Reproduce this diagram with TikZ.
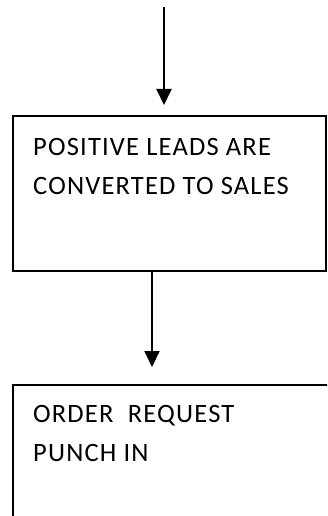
\documentclass[tikz,border=0pt]{standalone}
\usepackage{fontspec}
\setmainfont{Carlito}[LetterSpace=4.5]
\usetikzlibrary{arrows.meta}
\tikzset{
  stepbox/.style={draw=black, line width=1.6pt, rectangle, inner sep=0pt, anchor=north west},
  boxtext/.style={anchor=north west, inner sep=0pt, align=left,
    font=\fontsize{26.5}{39}\selectfont},
  flow/.style={line width=2pt, -{Triangle[width=15pt,length=16pt]}}
}
\begin{document}
\begin{tikzpicture}[x=1pt,y=1pt]
  \useasboundingbox (0,0) rectangle (327,-516);
  \clip (0,0) rectangle (327,-516);
  % first step
  \node[stepbox, minimum width=313pt, minimum height=155pt] (box1) at (12,-115) {};
  \node[boxtext] (text1) at (33,-138) {POSITIVE LEADS ARE\\CONVERTED TO SALES};
  % second step, running past the right and lower edges
  \node[stepbox, minimum width=360pt, minimum height=180pt] (box2) at (12,-384) {};
  \node[boxtext] (text2) at (33,-405) {ORDER~~REQUEST\\PUNCH IN};
  % connectors
  \coordinate (start) at (164,-7);
  \draw[flow] (start) -- ([yshift=10pt]start |- box1.north);
  \coordinate (mid) at (152,-270);
  \draw[flow] (mid |- box1.south) -- ([yshift=17pt]mid |- box2.north);
\end{tikzpicture}
\end{document}
